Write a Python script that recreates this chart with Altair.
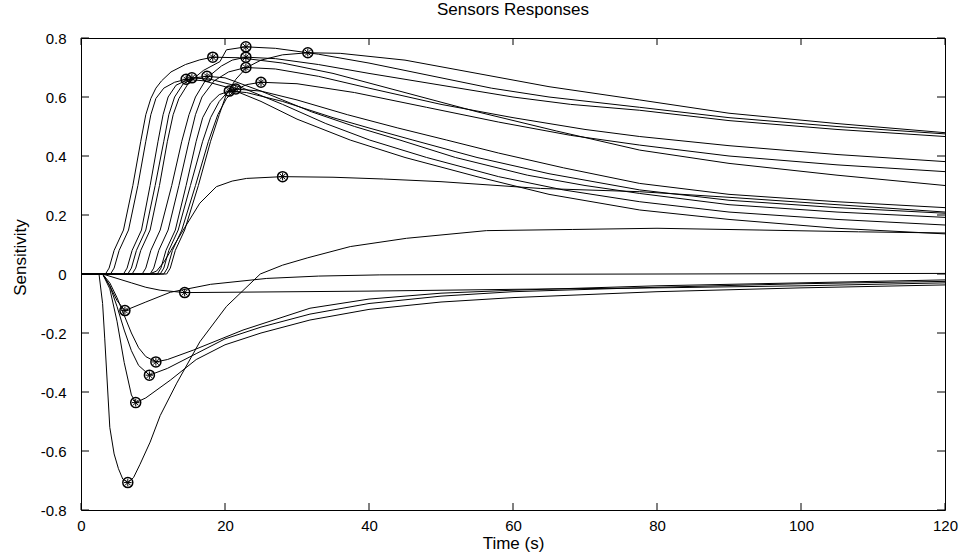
import altair as alt
import pandas as pd

# ---------------- data ----------------
# positive responses (time s, sensitivity)
p1_t = [0, 7.1, 7.6, 8.3, 9.6, 10.9, 12.0, 12.8, 13.6, 15, 17, 19.3, 20.2, 22.9, 27, 33, 40, 50, 57, 65, 77.6, 90, 105, 120]
p1_v = [0, 0, 0.02, 0.08, 0.149, 0.3, 0.45, 0.54, 0.595, 0.65, 0.69, 0.72, 0.76, 0.77, 0.765, 0.745, 0.715, 0.665, 0.63, 0.6, 0.565, 0.53, 0.5, 0.475]

p2_t = [0, 8.5, 9, 9.7, 11, 12.6, 14, 15.0, 15.9, 17.5, 19.5, 21, 22.9, 27, 33, 40, 50, 60, 68, 77.6, 90, 105, 120]
p2_v = [0, 0, 0.02, 0.08, 0.149, 0.3, 0.45, 0.54, 0.6, 0.665, 0.705, 0.725, 0.735, 0.73, 0.71, 0.68, 0.64, 0.6, 0.575, 0.555, 0.52, 0.49, 0.466]

p3_t = [0, 11.9, 12.4, 13.1, 14.4, 16.3, 18, 19.2, 20.2, 21.5, 23, 25, 28, 31.5, 36, 45, 55, 65, 77.6, 90, 105, 120]
p3_v = [0, 0, 0.02, 0.08, 0.149, 0.3, 0.45, 0.54, 0.61, 0.66, 0.70, 0.725, 0.743, 0.75, 0.748, 0.725, 0.68, 0.635, 0.59, 0.545, 0.51, 0.479]

p4_t = [0, 3.4, 3.9, 4.6, 5.9, 7.2, 8.3, 9.0, 9.7, 10.4, 11.2, 12.5, 14.5, 16.5, 18.3, 22, 28, 35, 45, 55, 66, 77.6, 90, 105, 120]
p4_v = [0, 0, 0.02, 0.08, 0.149, 0.3, 0.45, 0.54, 0.595, 0.63, 0.655, 0.685, 0.71, 0.726, 0.735, 0.733, 0.715, 0.68, 0.615, 0.55, 0.485, 0.42, 0.375, 0.335, 0.30]

p5_t = [0, 9.6, 10.1, 10.8, 12.1, 13.6, 15, 15.9, 16.8, 18.5, 20.5, 22.9, 27, 33, 40, 50, 60, 70, 77.6, 90, 105, 120]
p5_v = [0, 0, 0.02, 0.08, 0.149, 0.3, 0.45, 0.54, 0.6, 0.655, 0.685, 0.70, 0.695, 0.67, 0.63, 0.575, 0.53, 0.49, 0.466, 0.435, 0.405, 0.381]

p6_t = [0, 4.1, 4.6, 5.3, 6.6, 7.9, 9.0, 9.7, 10.4, 11.5, 13, 14.6, 17, 20, 25, 30, 37.4, 45, 55, 65, 77.6, 90, 105, 120]
p6_v = [0, 0, 0.02, 0.08, 0.149, 0.3, 0.45, 0.54, 0.595, 0.63, 0.65, 0.66, 0.655, 0.635, 0.585, 0.525, 0.454, 0.395, 0.33, 0.27, 0.217, 0.185, 0.155, 0.136]

p7_t = [0, 5.9, 6.4, 7.1, 8.4, 9.6, 10.7, 11.4, 12.1, 13.2, 15.4, 18, 22, 28, 34, 40.1, 48, 58, 67, 77.6, 90, 105, 120]
p7_v = [0, 0, 0.02, 0.08, 0.149, 0.3, 0.45, 0.54, 0.6, 0.64, 0.665, 0.66, 0.635, 0.575, 0.51, 0.454, 0.395, 0.33, 0.285, 0.245, 0.21, 0.185, 0.166]

p8_t = [0, 6.5, 7, 7.7, 9.0, 10.3, 11.5, 12.2, 13.0, 14.2, 15.8, 17.5, 20, 25, 32, 38, 44.3, 52, 62, 70, 77.6, 90, 105, 120]
p8_v = [0, 0, 0.02, 0.08, 0.149, 0.3, 0.45, 0.54, 0.6, 0.645, 0.665, 0.67, 0.665, 0.62, 0.55, 0.5, 0.454, 0.395, 0.335, 0.3, 0.273, 0.235, 0.21, 0.192]

p9_t = [0, 11.5, 12, 12.7, 14, 15.9, 17.7, 19.0, 20.2, 21.5, 23, 25, 30, 38, 48, 58, 68, 77.6, 90, 105, 120]
p9_v = [0, 0, 0.02, 0.08, 0.149, 0.3, 0.45, 0.54, 0.595, 0.625, 0.642, 0.65, 0.645, 0.615, 0.565, 0.515, 0.47, 0.437, 0.4, 0.37, 0.347]

p10_t = [0, 10.6, 11.1, 11.8, 13.1, 14.6, 16, 16.9, 18.0, 19.2, 20.6, 23, 28, 35, 40, 46.1, 55, 65, 77.6, 90, 105, 120]
p10_v = [0, 0, 0.02, 0.08, 0.149, 0.3, 0.45, 0.53, 0.58, 0.608, 0.62, 0.615, 0.585, 0.53, 0.495, 0.454, 0.395, 0.34, 0.285, 0.25, 0.225, 0.206]

p11_t = [0, 11, 11.5, 12.2, 13.5, 15.2, 16.9, 18.0, 19.2, 20.3, 21.5, 25, 30, 37, 44, 50.8, 58, 67, 77.6, 90, 105, 120]
p11_v = [0, 0, 0.02, 0.08, 0.149, 0.3, 0.45, 0.53, 0.585, 0.615, 0.627, 0.62, 0.59, 0.54, 0.495, 0.454, 0.41, 0.36, 0.307, 0.27, 0.245, 0.225]

p12_t = [0, 9.5, 10.5, 11.5, 12.5, 14.2, 16.5, 18.8, 21, 23, 28, 35, 42, 50, 63.8, 77.6, 90, 105, 120]
p12_v = [0, 0, 0.01, 0.04, 0.08, 0.149, 0.24, 0.296, 0.315, 0.324, 0.33, 0.328, 0.322, 0.313, 0.29, 0.279, 0.26, 0.235, 0.21]

# negative responses
n1_t = [0, 2.5, 3.0, 3.3, 4.0, 4.6, 5.2, 5.8, 6.5, 7.3, 8.2, 9.6, 11.0, 13.3, 16.5, 20.2, 24.9, 28, 31.5, 37.4, 45.2, 56.3, 68.3, 80, 94.3, 108, 120]
n1_v = [0, 0, -0.1, -0.22, -0.52, -0.61, -0.66, -0.695, -0.707, -0.69, -0.645, -0.57, -0.48, -0.37, -0.23, -0.11, 0.0, 0.03, 0.055, 0.093, 0.121, 0.147, 0.151, 0.155, 0.149, 0.143, 0.139]

n2_t = [0, 3, 4, 5, 6, 7, 7.6, 9, 12.4, 16, 20, 25, 31.8, 40, 50, 60, 80, 100, 120]
n2_v = [0, 0, -0.05, -0.16, -0.3, -0.41, -0.436, -0.42, -0.36, -0.29, -0.24, -0.2, -0.156, -0.12, -0.095, -0.08, -0.06, -0.047, -0.037]

n3_t = [0, 3, 4, 5, 6, 7, 8, 9.5, 12, 16, 20, 25, 31.8, 40, 50, 60, 80, 100, 120]
n3_v = [0, 0, -0.04, -0.11, -0.19, -0.26, -0.31, -0.343, -0.32, -0.27, -0.22, -0.18, -0.136, -0.1, -0.075, -0.06, -0.045, -0.033, -0.025]

n4_t = [0, 3, 4, 5, 6, 7, 8, 9, 10.4, 12, 15.6, 22.5, 31.8, 40, 50, 60, 80, 100, 120]
n4_v = [0, 0, -0.03, -0.08, -0.14, -0.2, -0.25, -0.28, -0.298, -0.29, -0.258, -0.19, -0.116, -0.085, -0.065, -0.055, -0.04, -0.03, -0.02]

n5_t = [0, 3, 4, 5, 6.1, 9, 12.4, 18, 25.8, 33, 41.5, 60, 80, 100, 120]
n5_v = [0, 0, -0.04, -0.09, -0.124, -0.095, -0.062, -0.035, -0.015, -0.007, -0.003, -0.001, 0.0, 0.001, 0.002]

n6_t = [0, 3, 5, 7, 9, 11, 14.4, 20, 40, 60, 80, 100, 120]
n6_v = [0, 0, -0.015, -0.03, -0.045, -0.055, -0.063, -0.062, -0.058, -0.052, -0.047, -0.04, -0.03]

# marked extrema
peak_t = [22.9, 22.9, 31.5, 18.3, 22.9, 14.6, 15.4, 17.5, 25.0, 20.6, 21.5, 28.0,
          6.5, 7.6, 9.5, 10.4, 6.1, 14.4]
peak_v = [0.77, 0.735, 0.75, 0.735, 0.70, 0.66, 0.665, 0.67, 0.65, 0.62, 0.627, 0.33,
          -0.707, -0.436, -0.343, -0.298, -0.124, -0.063]

x_ticks = [0, 20, 40, 60, 80, 100, 120]
y_ticks = [-0.8, -0.6, -0.4, -0.2, 0, 0.2, 0.4, 0.6, 0.8]

# ---------------- build tables ----------------
curves = {
    "p1": (p1_t, p1_v), "p2": (p2_t, p2_v), "p3": (p3_t, p3_v), "p4": (p4_t, p4_v),
    "p5": (p5_t, p5_v), "p6": (p6_t, p6_v), "p7": (p7_t, p7_v), "p8": (p8_t, p8_v),
    "p9": (p9_t, p9_v), "p10": (p10_t, p10_v), "p11": (p11_t, p11_v), "p12": (p12_t, p12_v),
    "n1": (n1_t, n1_v), "n2": (n2_t, n2_v), "n3": (n3_t, n3_v), "n4": (n4_t, n4_v),
    "n5": (n5_t, n5_v), "n6": (n6_t, n6_v),
}
rows = []
for name, (ts, vs) in curves.items():
    for i, (t, v) in enumerate(zip(ts, vs)):
        rows.append({"curve": name, "t": t, "v": v, "i": i})
df = pd.DataFrame(rows)
peaks = pd.DataFrame({"t": peak_t, "v": peak_v})
xt = pd.DataFrame({"t": x_ticks})
yt = pd.DataFrame({"v": y_ticks})

FONT = "Liberation Sans"
W, H = 864, 472

xscale = alt.Scale(domain=[0, 120], nice=False, zero=False)
yscale = alt.Scale(domain=[-0.8, 0.8], nice=False, zero=False)

x_axis = alt.Axis(values=x_ticks, ticks=False, grid=False, domain=False, labelFlush=False,
                  labelFontSize=15, labelFont=FONT, labelColor="black", labelPadding=8,
                  title="Time (s)", titleFont=FONT, titleFontSize=17, titleFontWeight="normal",
                  titleColor="black", titlePadding=2)
y_axis = alt.Axis(values=y_ticks, ticks=False, grid=False, domain=False, labelFlush=False,
                  labelFontSize=15, labelFont=FONT, labelColor="black", labelPadding=15,
                  labelExpr="datum.value == 0 ? '0' : (datum.value < 0 ? '-' + format(-datum.value, '.1f') : format(datum.value, '.1f'))",
                  title="Sensitivity", titleFont=FONT, titleFontSize=17, titleFontWeight="normal",
                  titleColor="black", titleX=-61, titleY=219, titleAlign="center",
                  titleBaseline="middle", titleAngle=-90)

lines = alt.Chart(df).mark_line(color="black", strokeWidth=1).encode(
    x=alt.X("t:Q", scale=xscale, axis=x_axis),
    y=alt.Y("v:Q", scale=yscale, axis=y_axis),
    detail="curve:N",
    order="i:Q",
)

circles = alt.Chart(peaks).mark_point(shape="circle", filled=False, color="black",
                                       size=100, strokeWidth=1.5, opacity=1).encode(
    x=alt.X("t:Q", scale=xscale), y=alt.Y("v:Q", scale=yscale))
stars = alt.Chart(peaks).mark_point(
    shape="M-0.75,0L0.75,0M0,-0.75L0,0.75M-0.55,-0.55L0.55,0.55M-0.55,0.55L0.55,-0.55",
    filled=False, color="black", size=100, strokeWidth=1, opacity=1).encode(
    x=alt.X("t:Q", scale=xscale), y=alt.Y("v:Q", scale=yscale))

# inward ticks on all four sides
tick_b = alt.Chart(xt).mark_rule(color="black", strokeWidth=1).encode(
    x=alt.X("t:Q", scale=xscale), y=alt.value(H), y2=alt.value(H - 7))
tick_t = alt.Chart(xt).mark_rule(color="black", strokeWidth=1).encode(
    x=alt.X("t:Q", scale=xscale), y=alt.value(0), y2=alt.value(7))
tick_l = alt.Chart(yt).mark_rule(color="black", strokeWidth=1).encode(
    y=alt.Y("v:Q", scale=yscale), x=alt.value(0), x2=alt.value(8))
tick_r = alt.Chart(yt).mark_rule(color="black", strokeWidth=1).encode(
    y=alt.Y("v:Q", scale=yscale), x=alt.value(W), x2=alt.value(W - 8))

chart = alt.layer(lines, tick_b, tick_t, tick_l, tick_r, circles, stars).properties(
    width=W, height=H,
    title=alt.TitleParams("Sensors Responses", font=FONT, fontSize=17, fontWeight="normal",
                          color="black", offset=12, anchor="middle"),
    padding={"left": 81, "top": 38, "right": 20, "bottom": 50},
    autosize="none",
    background="white",
).configure_view(stroke="black", strokeWidth=1)

chart.save("out.html", embed_options={"renderer": "svg", "actions": False})
